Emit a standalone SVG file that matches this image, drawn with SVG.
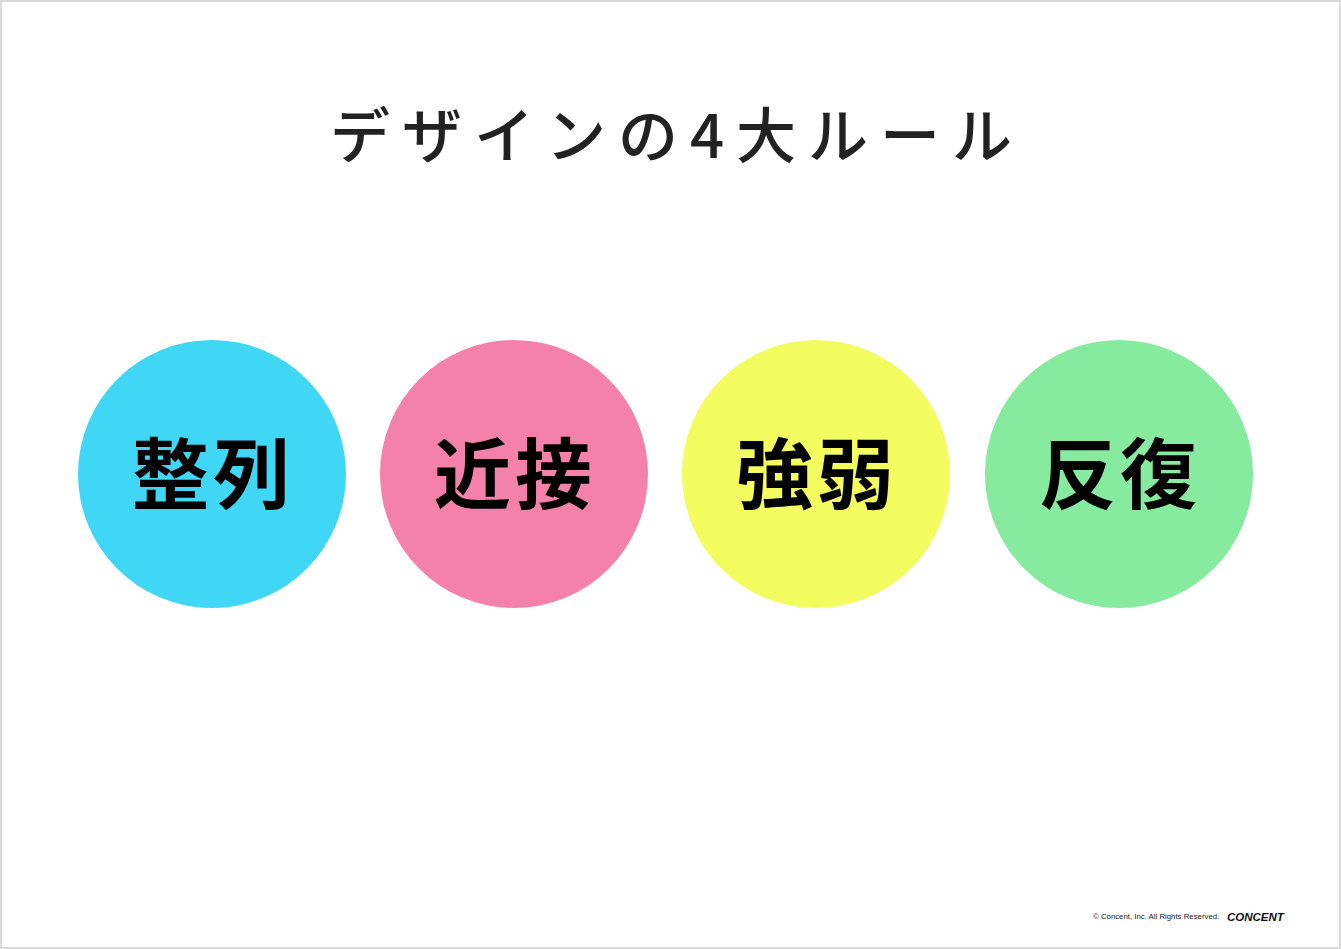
<svg xmlns="http://www.w3.org/2000/svg" width="1341" height="949" viewBox="0 0 1341 949">
<style>
.title{font-family:"Noto Sans CJK JP","Noto Sans CJK SC",sans-serif;font-size:60px;font-weight:500;fill:#222;letter-spacing:12px}
.lbl{font-family:"Noto Sans CJK JP","Noto Sans CJK SC",sans-serif;font-size:77px;font-weight:700;fill:#000;letter-spacing:4px}
.copy{font-family:"Liberation Sans",Arial,sans-serif;font-size:7.8px;fill:#222}
.logo{font-family:"Liberation Sans",Arial,sans-serif;font-size:11.5px;font-weight:700;font-style:italic;fill:#111}
</style>
<rect x="1" y="1" width="1339" height="947" fill="#fff" stroke="#d9d9d9" stroke-width="2"/>
<text class="title" x="677" y="158" text-anchor="middle">デザインの4大ルール</text>
<g id="node-seiretsu"><circle cx="212" cy="474" r="134" fill="#3FD7F5"/><text class="lbl" x="213" y="503" text-anchor="middle">整列</text></g>
<g id="node-kinsetsu"><circle cx="514" cy="474" r="134" fill="#F481AA"/><text class="lbl" x="515" y="503" text-anchor="middle">近接</text></g>
<g id="node-kyojaku"><circle cx="816" cy="474" r="134" fill="#F3FD5F"/><text class="lbl" x="817" y="503" text-anchor="middle">強弱</text></g>
<g id="node-hanpuku"><circle cx="1119" cy="474" r="134" fill="#86EA9F"/><text class="lbl" x="1120" y="503" text-anchor="middle">反復</text></g>
<g id="connectors"></g>
<text class="copy" x="1093" y="919">© Concent, Inc. All Rights Reserved.</text>
<text class="logo" x="1227" y="921">CONCENT</text>
</svg>
